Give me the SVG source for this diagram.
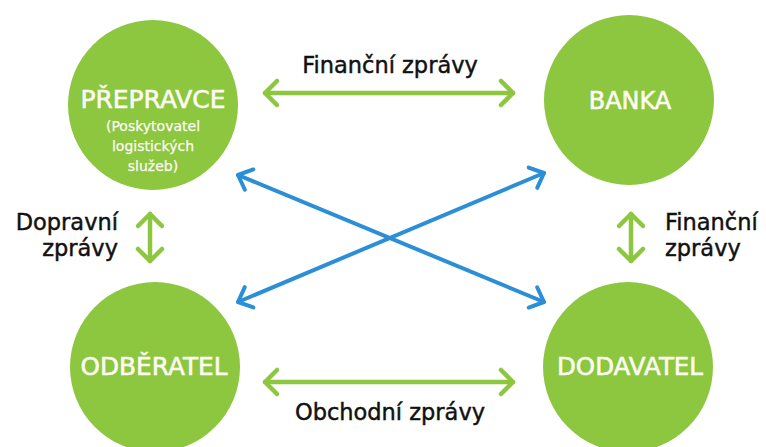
<svg xmlns="http://www.w3.org/2000/svg" width="766" height="447" viewBox="0 0 766 447">
<style>
.node{fill:#8dc63f}
.nl{fill:#fbfbf2;font-family:"DejaVu Sans",sans-serif;font-size:24px;text-anchor:middle;stroke:#fbfbf2;stroke-width:0.6}
.sub{fill:#fbfbf2;font-family:"DejaVu Sans",sans-serif;font-size:14px;text-anchor:middle;stroke:#fbfbf2;stroke-width:0.25}
.lbl{fill:#111;font-family:"DejaVu Sans",sans-serif;font-size:22.5px;stroke:#111;stroke-width:0.45}
.g{fill:none;stroke:#8dc63f;stroke-width:4.5;stroke-linecap:round;marker-start:url(#ag);marker-end:url(#ag)}
.b{fill:none;stroke:#2b8ed6;stroke-width:4;stroke-linecap:round;marker-start:url(#ab);marker-end:url(#ab)}
</style>
<defs>
<marker id="ag" viewBox="-16 -16 20 32" refX="0" refY="0" markerWidth="20" markerHeight="32" markerUnits="userSpaceOnUse" orient="auto-start-reverse" overflow="visible">
<path d="M-12,-12 L0,0 L-12,12" fill="none" stroke="#8dc63f" stroke-width="4.5" stroke-linecap="round" stroke-linejoin="round"/>
</marker>
<marker id="ab" viewBox="-16 -16 20 32" refX="0" refY="0" markerWidth="20" markerHeight="32" markerUnits="userSpaceOnUse" orient="auto-start-reverse" overflow="visible">
<path d="M-12,-11 L0,0 L-12,11" fill="none" stroke="#2b8ed6" stroke-width="4" stroke-linecap="round" stroke-linejoin="round"/>
</marker>
</defs>
<rect width="766" height="447" fill="#fff"/>
<g id="connectors">
<line class="g" x1="265" y1="93" x2="513" y2="93"/>
<line class="g" x1="265" y1="382" x2="513" y2="382"/>
<line class="g" x1="150" y1="214" x2="150" y2="261"/>
<line class="g" x1="631" y1="214" x2="631" y2="261"/>
<line class="b" x1="238" y1="175" x2="544" y2="302"/>
<line class="b" x1="544" y1="173" x2="238" y2="302"/>
<text class="lbl" x="390" y="73" text-anchor="middle">Finanční zprávy</text>
<text class="lbl" x="390" y="420" text-anchor="middle">Obchodní zprávy</text>
<text class="lbl" x="118" y="230" text-anchor="end">Dopravní</text>
<text class="lbl" x="118" y="256" text-anchor="end">zprávy</text>
<text class="lbl" x="665" y="230">Finanční</text>
<text class="lbl" x="665" y="256">zprávy</text>
</g>
<g id="prepravce">
<circle class="node" cx="153" cy="105" r="85"/>
<text class="nl" x="153" y="108" textLength="145" lengthAdjust="spacingAndGlyphs">PŘEPRAVCE</text>
<text class="sub" x="153" y="131">(Poskytovatel</text>
<text class="sub" x="153" y="151">logistických</text>
<text class="sub" x="153" y="171">služeb)</text>
</g>
<g id="banka">
<circle class="node" cx="629" cy="100" r="85"/>
<text class="nl" x="630" y="109">BANKA</text>
</g>
<g id="odberatel">
<circle class="node" cx="155" cy="367" r="85"/>
<text class="nl" x="154" y="375" textLength="147" lengthAdjust="spacingAndGlyphs">ODBĚRATEL</text>
</g>
<g id="dodavatel">
<circle class="node" cx="628" cy="367" r="85"/>
<text class="nl" x="630" y="375" textLength="146" lengthAdjust="spacingAndGlyphs">DODAVATEL</text>
</g>
</svg>
